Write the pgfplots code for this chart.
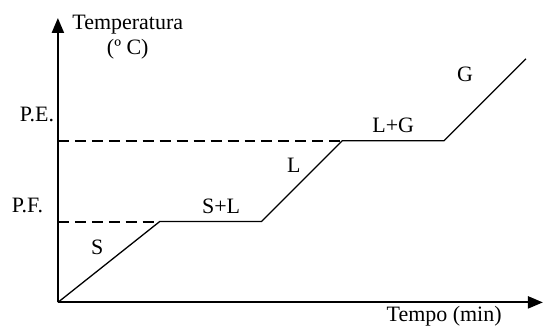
\documentclass[border=0pt]{standalone}
\usepackage{fontspec}
\setmainfont{Liberation Serif}
\usepackage{pgfplots}
\pgfplotsset{compat=1.18}
\usetikzlibrary{arrows.meta}
\tikzset{lbl/.style={anchor=base, inner sep=0pt, font=\fontsize{22}{24}\selectfont}}
\begin{document}
\begin{tikzpicture}
\begin{axis}[
  scale only axis, width=486pt, height=285pt,
  xmin=0, xmax=486, ymin=0, ymax=285,
  axis lines=left, clip=false,
  axis line style={line width=2.2pt, -{Triangle[length=15pt,width=12pt]}},
  xtick=\empty, ytick=\empty,
]
\addplot[black, line width=1.3pt, mark=none] coordinates {(0,0) (102,81) (204,81) (285,162) (387,162) (469,244)};
\addplot[black, line width=2pt, dash pattern=on 11pt off 6pt, mark=none] coordinates {(0,81) (102,81)};
\addplot[black, line width=2pt, dash pattern=on 11pt off 6pt, mark=none] coordinates {(0,162) (285,162)};
\node[lbl] at (axis cs:70,273) {Temperatura};
\node[lbl] at (axis cs:70,248) {(º C)};
\node[lbl] at (axis cs:-21,181) {P.E.};
\node[lbl] at (axis cs:-30.5,90) {P.F.};
\node[lbl] at (axis cs:39.5,48) {S};
\node[lbl] at (axis cs:163.5,89) {S+L};
\node[lbl] at (axis cs:236.5,130) {L};
\node[lbl] at (axis cs:336,170) {L+G};
\node[lbl] at (axis cs:408,221) {G};
\node[lbl] at (axis cs:387,-19) {Tempo (min)};
\path (axis cs:-58,-24) rectangle (axis cs:486,303);
\end{axis}
\end{tikzpicture}
\end{document}
